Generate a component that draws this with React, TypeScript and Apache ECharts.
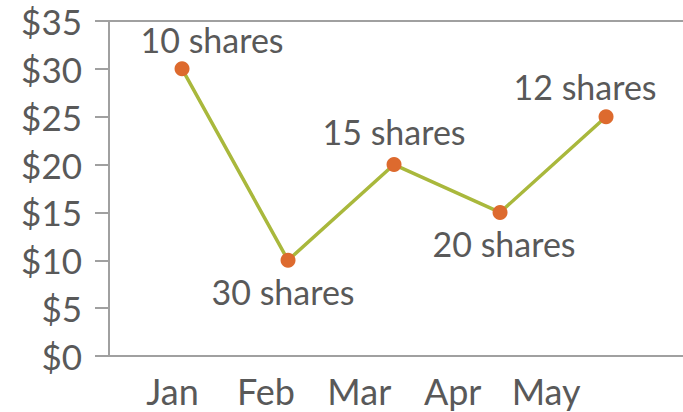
import React, { useEffect, useRef } from "react";
import * as echarts from "echarts";

const months = ["Jan", "Feb", "Mar", "Apr", "May"];
const prices = [30, 10, 20, 15, 25];
const shares = [10, 30, 15, 20, 12];
const yTicks = [0, 5, 10, 15, 20, 25, 30, 35];

const TEXT = "#595959";
const AXIS = "#a0a0a0";
const FONT = "Lato";

export default function App() {
  const ref = useRef<HTMLDivElement>(null);
  useEffect(() => {
    document.body.style.margin = "0";
    const chart = echarts.init(ref.current!, null, { renderer: "svg" });
    const labelCfg = [
      { position: "top", offset: [30, 5] },
      { position: "bottom", offset: [-5, -3] },
      { position: "top", offset: [0, 1.5] },
      { position: "bottom", offset: [4, -3] },
      { position: "top", offset: [-21, 4] },
    ];
    chart.setOption({
      animation: false,
      grid: { left: 109, right: 0, top: 21, bottom: 56, containLabel: false },
      xAxis: [
        {
          type: "value",
          min: -0.68,
          max: 5.466,
          position: "bottom",
          axisLine: { show: true, onZero: false, lineStyle: { color: AXIS, width: 2 } },
          axisTick: { show: false },
          splitLine: { show: false },
          axisLabel: {
            customValues: [0, 1, 2, 3, 4],
            formatter: (v: number) => months[Math.round(v)],
            color: TEXT,
            fontFamily: FONT,
            fontSize: 36,
            lineHeight: 40,
            margin: 15,
          },
        },
        {
          type: "value",
          min: -0.689,
          max: 4.726,
          position: "top",
          axisLine: { show: true, onZero: false, lineStyle: { color: AXIS, width: 2 } },
          axisTick: { show: false },
          axisLabel: { show: false },
          splitLine: { show: false },
        },
      ],
      yAxis: {
        type: "value",
        min: yTicks[0],
        max: yTicks[yTicks.length - 1],
        interval: 5,
        axisLine: { show: true, onZero: false, lineStyle: { color: AXIS, width: 2 } },
        axisTick: { show: true, length: 14, lineStyle: { color: AXIS, width: 2 } },
        splitLine: { show: false },
        axisLabel: {
          formatter: (v: number) => "$" + v,
          color: TEXT,
          fontFamily: FONT,
          fontSize: 35,
          margin: 27,
        },
      },
      series: [
        {
          type: "line",
          xAxisIndex: 1,
          data: prices.map((p, i) => ({
            value: [i, p],
            label: {
              show: true,
              position: labelCfg[i].position,
              offset: labelCfg[i].offset,
              formatter: shares[i] + " shares",
            },
          })),
          symbol: "circle",
          symbolSize: 15,
          itemStyle: { color: "#dd6a2e" },
          lineStyle: { color: "#a9b83c", width: 3.5 },
          label: {
            color: TEXT,
            fontFamily: FONT,
            fontSize: 34,
            distance: 10,
          },
        },
      ],
    });
    return () => chart.dispose();
  }, []);
  return <div ref={ref} style={{ width: 683, height: 412 }} />;
}
